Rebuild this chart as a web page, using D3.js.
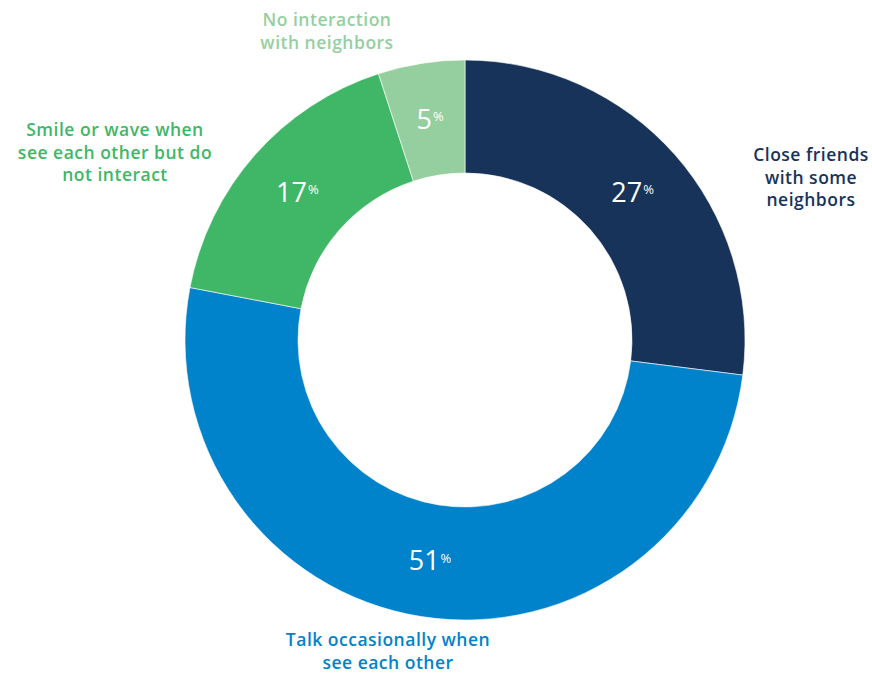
<!DOCTYPE html>
<html>
<head>
<meta charset="utf-8">
<script src="https://cdn.jsdelivr.net/npm/d3@7"></script>
<style>
  body { margin: 0; background: #fff; }
  svg text { font-family: "Open Sans", "Noto Sans", sans-serif; }
</style>
</head>
<body>
<div id="chart"></div>
<script>
// chart data
const categories = [
  ["Close friends", "with some", "neighbors"],
  ["Talk occasionally when", "see each other"],
  ["Smile or wave when", "see each other but do", "not interact"],
  ["No interaction", "with neighbors"]
]
const values = [27, 51, 17, 5]
const colors = ["#17335a", "#0083ca", "#3fb766", "#95cfa0"]

// where the category labels sit (first line centre)
const labelPos = [
  {x: 811, y: 155},
  {x: 388, y: 640},
  {x: 115, y: 130},
  {x: 327, y: 20}
]

const width = 872, height = 675
const cx = 465, cy = 340
const outerR = 280, innerR = 167

const svg = d3.select("#chart").append("svg")
    .attr("width", width)
    .attr("height", height)

const pie = d3.pie().sort(null).value(d => d)
const arcs = pie(values)

const arc = d3.arc().innerRadius(innerR).outerRadius(outerR)

const g = svg.append("g")
    .attr("transform", `translate(${cx},${cy})`)

g.selectAll("path")
  .data(arcs)
  .enter().append("path")
    .attr("d", arc)
    .attr("fill", (d, i) => colors[i])
    .attr("stroke", "#fff")
    .attr("stroke-width", 0.6)

// percentage labels
const pct = g.selectAll("text.pct")
  .data(arcs)
  .enter().append("text")
    .attr("class", "pct")
    .attr("transform", d => `translate(${arc.centroid(d)})`)
    .attr("text-anchor", "middle")
    .attr("dy", "0.36em")
    .attr("fill", "#fff")
    .style("font-size", "27px")
    .style("font-weight", 500)

pct.append("tspan").text(d => d.data)
pct.append("tspan")
    .attr("dy", "-0.6em")
    .attr("dx", 1)
    .style("font-size", "13px")
    .text("%")

// category labels
svg.selectAll("text.cat")
  .data(categories)
  .enter().append("text")
    .attr("class", "cat")
    .attr("text-anchor", "middle")
    .attr("fill", (d, i) => colors[i])
    .style("font-size", "17.5px")
    .style("font-weight", 600)
    .style("letter-spacing", "0.5px")
    .each(function(lines, i) {
      const t = d3.select(this)
      lines.forEach((line, j) => {
        t.append("tspan")
          .attr("x", labelPos[i].x)
          .attr("y", labelPos[i].y + j * 22.5)
          .attr("dy", "0.35em")
          .text(line)
      })
    })
</script>
</body>
</html>
